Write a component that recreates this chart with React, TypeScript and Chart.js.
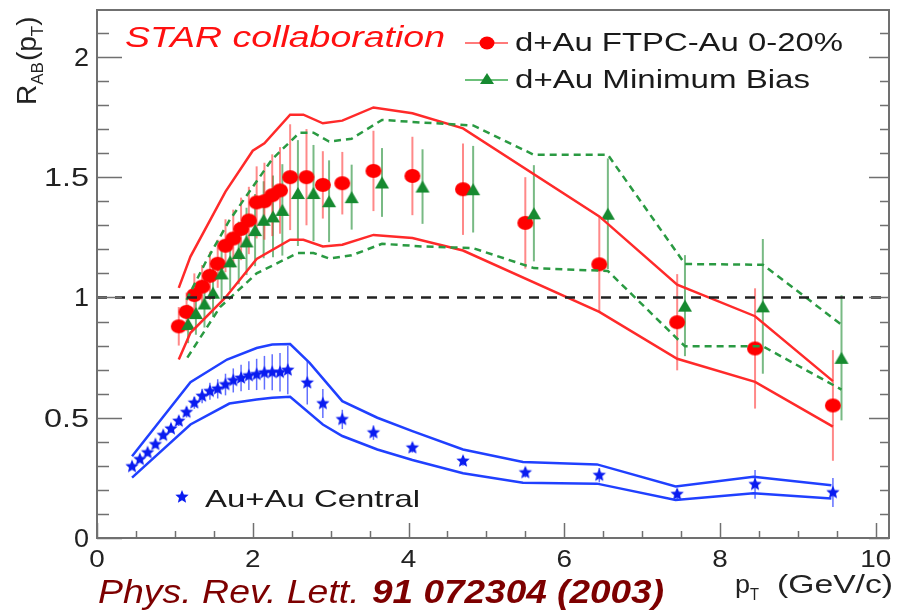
import React, { useEffect, useRef } from 'react';
import { Chart, registerables } from 'chart.js';

Chart.register(...registerables);

// ---------- axis ranges and ticks ----------
const X_MIN = 0;
const X_MAX = 10.17;
const Y_MIN = 0;
const Y_MAX = 2.195;
const xTickValues = [0, 2, 4, 6, 8, 10];
const xTickLabels = ['0', '2', '4', '6', '8', '10'];
const yTickValues = [0, 0.5, 1, 1.5, 2];
const yTickLabels = ['0', '0.5', '1', '1.5', '2'];
const xMinorStep = 0.5;
const yMinorStep = 0.1;
const refLineY = 1;

// ---------- d+Au FTPC-Au 0-20% (red circles) ----------
const ftpcX = [1.05, 1.15, 1.25, 1.35, 1.45, 1.55, 1.65, 1.75, 1.85, 1.95, 2.05, 2.15, 2.25, 2.35, 2.48, 2.69, 2.9, 3.15, 3.55, 4.05, 4.7, 5.5, 6.45, 7.45, 8.45, 9.45];
const ftpcY = [0.88, 0.94, 1.01, 1.045, 1.09, 1.14, 1.215, 1.245, 1.285, 1.32, 1.395, 1.4, 1.425, 1.445, 1.5, 1.5, 1.468, 1.475, 1.526, 1.505, 1.45, 1.31, 1.138, 0.897, 0.788, 0.551];
const ftpcErr = [0.08, 0.08, 0.09, 0.09, 0.1, 0.1, 0.11, 0.12, 0.13, 0.14, 0.15, 0.16, 0.17, 0.18, 0.22, 0.2, 0.14, 0.13, 0.167, 0.163, 0.19, 0.19, 0.2, 0.2, 0.25, 0.23];
const ftpcBandUpX = [1.05, 1.2, 1.65, 2.0, 2.15, 2.48, 2.65, 2.9, 3.15, 3.55, 4.05, 4.7, 6.45, 7.45, 8.45, 9.45];
const ftpcBandUpY = [1.04, 1.17, 1.44, 1.61, 1.641, 1.76, 1.76, 1.724, 1.735, 1.79, 1.766, 1.703, 1.337, 1.053, 0.922, 0.652];
const ftpcBandLoX = [1.05, 1.2, 1.65, 2.05, 2.48, 2.65, 2.9, 3.15, 3.55, 4.05, 4.7, 6.45, 7.45, 8.45, 9.45];
const ftpcBandLoY = [0.742, 0.853, 1.0, 1.16, 1.24, 1.24, 1.212, 1.219, 1.26, 1.247, 1.195, 0.94, 0.745, 0.649, 0.463];

// ---------- d+Au Minimum Bias (green triangles) ----------
const mbX = [1.17, 1.27, 1.38, 1.49, 1.6, 1.71, 1.82, 1.92, 2.03, 2.14, 2.26, 2.38, 2.58, 2.78, 2.98, 3.27, 3.66, 4.18, 4.83, 5.61, 6.56, 7.55, 8.55, 9.56];
const mbY = [0.89, 0.935, 0.975, 1.02, 1.1, 1.15, 1.185, 1.233, 1.28, 1.323, 1.337, 1.364, 1.434, 1.434, 1.4, 1.417, 1.478, 1.461, 1.45, 1.35, 1.348, 0.966, 0.963, 0.749];
const mbErr = [0.08, 0.09, 0.1, 0.1, 0.11, 0.12, 0.13, 0.14, 0.15, 0.16, 0.17, 0.19, 0.22, 0.2, 0.17, 0.135, 0.143, 0.155, 0.18, 0.2, 0.23, 0.21, 0.28, 0.26];
const mbBandUpX = [1.15, 1.4, 1.7, 2.0, 2.25, 2.6, 2.78, 2.98, 3.27, 3.66, 4.18, 4.83, 5.61, 6.56, 7.55, 8.55, 9.56];
const mbBandUpY = [0.99, 1.15, 1.32, 1.46, 1.575, 1.685, 1.685, 1.648, 1.66, 1.738, 1.727, 1.715, 1.593, 1.593, 1.139, 1.136, 0.887];
const mbBandLoX = [1.16, 1.58, 2.05, 2.58, 2.78, 2.98, 3.27, 3.66, 4.18, 4.83, 5.61, 6.56, 7.55, 8.55, 9.56];
const mbBandLoY = [0.75, 0.96, 1.1, 1.185, 1.185, 1.162, 1.175, 1.223, 1.212, 1.205, 1.122, 1.11, 0.797, 0.797, 0.617];

// ---------- Au+Au Central (blue stars) ----------
const auX = [0.45, 0.55, 0.65, 0.75, 0.85, 0.95, 1.05, 1.15, 1.25, 1.35, 1.45, 1.55, 1.65, 1.75, 1.85, 1.95, 2.05, 2.15, 2.25, 2.35, 2.45, 2.7, 2.9, 3.15, 3.55, 4.05, 4.7, 5.5, 6.45, 7.45, 8.45, 9.45];
const auY = [0.297, 0.327, 0.355, 0.389, 0.427, 0.454, 0.486, 0.523, 0.562, 0.59, 0.61, 0.62, 0.638, 0.655, 0.665, 0.675, 0.68, 0.687, 0.689, 0.689, 0.698, 0.645, 0.559, 0.493, 0.438, 0.375, 0.32, 0.272, 0.261, 0.182, 0.223, 0.189];
const auErr = [0.01, 0.01, 0.012, 0.013, 0.015, 0.017, 0.02, 0.022, 0.025, 0.03, 0.035, 0.04, 0.045, 0.05, 0.055, 0.06, 0.065, 0.07, 0.075, 0.08, 0.1, 0.09, 0.06, 0.04, 0.03, 0.02, 0.02, 0.02, 0.03, 0.02, 0.06, 0.06];
const auBandUpX = [0.45, 1.2, 1.67, 2.05, 2.25, 2.48, 2.73, 3.15, 3.6, 4.05, 4.7, 5.47, 6.42, 7.43, 8.43, 9.43];
const auBandUpY = [0.34, 0.648, 0.742, 0.79, 0.804, 0.806, 0.728, 0.569, 0.5, 0.444, 0.368, 0.316, 0.306, 0.214, 0.255, 0.219];
const auBandLoX = [0.45, 1.2, 1.7, 2.05, 2.25, 2.48, 2.9, 3.15, 3.6, 4.05, 4.7, 5.47, 6.42, 7.43, 8.43, 9.43];
const auBandLoY = [0.251, 0.472, 0.559, 0.576, 0.583, 0.587, 0.472, 0.424, 0.368, 0.324, 0.269, 0.23, 0.226, 0.158, 0.186, 0.164];

// ---------- texts ----------
const starLabel = 'STAR collaboration';
const ftpcLabel = 'd+Au FTPC-Au 0-20%';
const mbLabel = 'd+Au Minimum Bias';
const auLabel = 'Au+Au Central';
const refPlain = 'Phys. Rev. Lett. ';
const refBold = '91 072304 (2003)';

const RED = '#ff0000';
const RED_BAND = '#ff2a2a';
const RED_ERR = 'rgba(255,40,40,0.55)';
const GREEN = '#168a30';
const GREEN_BAND = '#2a9a42';
const GREEN_ERR = 'rgba(30,140,50,0.6)';
const BLUE = '#0a1cf0';
const BLUE_BAND = '#2040ff';
const BLUE_ERR = 'rgba(30,50,255,0.7)';
const FONT = '"Liberation Sans", Arial, Helvetica, sans-serif';

const pts = (xs: number[], ys: number[]) => xs.map((x, i) => ({ x, y: ys[i] }));

function makeStar(r: number, color: string) {
  const c = document.createElement('canvas');
  const s = Math.ceil(r * 2 + 2);
  c.width = s;
  c.height = s;
  const g = c.getContext('2d')!;
  g.fillStyle = color;
  g.beginPath();
  for (let i = 0; i < 10; i++) {
    const a = -Math.PI / 2 + (i * Math.PI) / 5;
    const rr = i % 2 === 0 ? r : r * 0.45;
    g.lineTo(s / 2 + rr * Math.cos(a), s / 2 + rr * Math.sin(a));
  }
  g.closePath();
  g.fill();
  return c;
}

function makeEllipse(rx: number, ry: number, color: string) {
  const c = document.createElement('canvas');
  c.width = Math.ceil(rx * 2 + 2);
  c.height = Math.ceil(ry * 2 + 2);
  const g = c.getContext('2d')!;
  g.fillStyle = color;
  g.beginPath();
  g.ellipse(c.width / 2, c.height / 2, rx, ry, 0, 0, Math.PI * 2);
  g.fill();
  return c;
}

function makeTriangle(w: number, h: number, color: string) {
  const c = document.createElement('canvas');
  c.width = Math.ceil(w + 2);
  c.height = Math.ceil(h + 2);
  const g = c.getContext('2d')!;
  g.fillStyle = color;
  g.beginPath();
  g.moveTo(c.width / 2, 1);
  g.lineTo(c.width / 2 + w / 2, 1 + h);
  g.lineTo(c.width / 2 - w / 2, 1 + h);
  g.closePath();
  g.fill();
  return c;
}

function fitText(ctx: CanvasRenderingContext2D, text: string, x: number, y: number, font: string, color: string, width?: number, align: string = 'left') {
  ctx.save();
  ctx.font = font;
  ctx.fillStyle = color;
  ctx.textBaseline = 'alphabetic';
  ctx.textAlign = 'left';
  const w = ctx.measureText(text).width;
  const sx = width ? width / w : 1;
  ctx.translate(x, y);
  ctx.scale(sx, 1);
  let dx = 0;
  if (align === 'right') dx = -w;
  else if (align === 'center') dx = -w / 2;
  ctx.fillText(text, dx, 0);
  ctx.restore();
}

const errorBarPlugin = {
  id: 'errorBars',
  beforeDatasetsDraw(chart: any) {
    const { ctx } = chart;
    const xs = chart.scales.x;
    const ys = chart.scales.y;
    ctx.save();
    ctx.beginPath();
    ctx.rect(chart.chartArea.left, chart.chartArea.top, chart.chartArea.right - chart.chartArea.left, chart.chartArea.bottom - chart.chartArea.top);
    ctx.clip();
    chart.data.datasets.forEach((ds: any) => {
      if (!ds.errors) return;
      ctx.strokeStyle = ds.errColor;
      ctx.lineWidth = ds.errWidth || 2;
      ds.data.forEach((p: any, i: number) => {
        const e = ds.errors[i];
        const px = xs.getPixelForValue(p.x);
        ctx.beginPath();
        ctx.moveTo(px, ys.getPixelForValue(p.y - e));
        ctx.lineTo(px, ys.getPixelForValue(p.y + e));
        ctx.stroke();
      });
    });
    ctx.restore();
  },
};

const framePlugin = {
  id: 'frameAndText',
  afterDraw(chart: any) {
    const { ctx, chartArea } = chart;
    const xs = chart.scales.x;
    const ys = chart.scales.y;
    const { left, right, top, bottom } = chartArea;
    ctx.save();
    ctx.strokeStyle = '#707070';
    ctx.lineWidth = 2;
    ctx.strokeRect(left, top, right - left, bottom - top);
    ctx.lineWidth = 1.5;
    for (let v = Y_MIN; v <= Y_MAX + 1e-9; v += yMinorStep) {
      const vv = Math.round(v * 10) / 10;
      const major = yTickValues.some((t) => Math.abs(t - vv) < 1e-6);
      const py = Math.round(ys.getPixelForValue(vv)) + 0.5;
      ctx.beginPath();
      ctx.moveTo(left, py);
      ctx.lineTo(left + (major ? 25 : 12), py);
      ctx.moveTo(right, py);
      ctx.lineTo(right - (major ? 20 : 9), py);
      ctx.stroke();
    }
    for (let v = X_MIN; v <= X_MAX + 1e-9; v += xMinorStep) {
      const major = xTickValues.some((t) => Math.abs(t - v) < 1e-6);
      const px = Math.round(xs.getPixelForValue(v)) + 0.5;
      ctx.beginPath();
      ctx.moveTo(px, bottom);
      ctx.lineTo(px, bottom - (major ? 15 : 7));
      ctx.stroke();
    }
    ctx.restore();

    yTickValues.forEach((v, i) => {
      const py = ys.getPixelForValue(v);
      const lbl = yTickLabels[i];
      const w = lbl.length === 1 ? 15 : 45;
      fitText(ctx, lbl, 89, py + 9, `25px ${FONT}`, '#222', w, 'right');
    });
    xTickValues.forEach((v, i) => {
      const px = xs.getPixelForValue(v);
      const lbl = xTickLabels[i];
      const w = lbl.length === 1 ? 15.5 : 31;
      fitText(ctx, lbl, px, 567, `24px ${FONT}`, '#222', w, 'center');
    });

    ctx.save();
    ctx.translate(36, 105);
    ctx.rotate(-Math.PI / 2);
    ctx.fillStyle = '#222';
    ctx.textBaseline = 'alphabetic';
    let cx = 0;
    const part = (t: string, size: number, dy: number) => {
      ctx.font = `${size}px ${FONT}`;
      ctx.fillText(t, cx, dy);
      cx += ctx.measureText(t).width;
    };
    part('R', 28, 0);
    part('AB', 17, 7);
    cx += 1;
    part('(p', 28, 0);
    part('T', 17, 7);
    part(')', 28, 0);
    ctx.restore();

    fitText(ctx, 'p', 735, 593, `25px ${FONT}`, '#222', 15);
    fitText(ctx, 'T', 750, 600, `16px ${FONT}`, '#222', 9);
    fitText(ctx, '(GeV/c)', 777, 593, `25px ${FONT}`, '#222', 116);

    fitText(ctx, starLabel, 125, 47, `italic 30px ${FONT}`, '#ff1010', 320);

    ctx.save();
    ctx.lineWidth = 2;
    ctx.strokeStyle = '#ff7a7a';
    ctx.beginPath();
    ctx.moveTo(465, 43);
    ctx.lineTo(508, 43);
    ctx.stroke();
    ctx.fillStyle = RED;
    ctx.beginPath();
    ctx.ellipse(487, 43, 7.5, 6.5, 0, 0, Math.PI * 2);
    ctx.fill();
    ctx.strokeStyle = '#6cc07a';
    ctx.beginPath();
    ctx.moveTo(465, 80);
    ctx.lineTo(508, 80);
    ctx.stroke();
    ctx.fillStyle = GREEN;
    ctx.beginPath();
    ctx.moveTo(487, 73);
    ctx.lineTo(494, 84);
    ctx.lineTo(480, 84);
    ctx.closePath();
    ctx.fill();
    ctx.restore();
    fitText(ctx, ftpcLabel, 515, 51, `25px ${FONT}`, '#1a1a1a', 328);
    fitText(ctx, mbLabel, 515, 88, `25px ${FONT}`, '#1a1a1a', 295);
    const star = makeStar(7, BLUE);
    ctx.drawImage(star, 182 - star.width / 2, 497 - star.height / 2);
    fitText(ctx, auLabel, 205, 507, `24px ${FONT}`, '#1a1a1a', 215);

    fitText(ctx, refPlain, 98, 603, `italic 34px ${FONT}`, '#7d0000', 272);
    fitText(ctx, refBold, 372, 603, `italic bold 34px ${FONT}`, '#7d0000', 292);
  },
};

export default function App() {
  const ref = useRef<HTMLCanvasElement | null>(null);

  useEffect(() => {
    if (!ref.current) return;
    const starImg = makeStar(7, BLUE);
    const circleImg = makeEllipse(8, 7, RED);
    const triImg = makeTriangle(14, 12, GREEN);
    const band = (xs: number[], ys: number[], color: string, dash: number[] = []) => ({
      data: pts(xs, ys),
      showLine: true,
      borderColor: color,
      borderWidth: 2.5,
      borderDash: dash,
      pointRadius: 0,
      tension: 0,
      fill: false,
    });
    const chart = new Chart(ref.current, {
      type: 'scatter',
      data: {
        datasets: [
          {
            data: [{ x: X_MIN, y: refLineY }, { x: X_MAX, y: refLineY }],
            showLine: true,
            borderColor: '#222',
            borderWidth: 2.5,
            borderDash: [10, 8],
            pointRadius: 0,
          } as any,
          band(auBandUpX, auBandUpY, BLUE_BAND),
          band(auBandLoX, auBandLoY, BLUE_BAND),
          band(mbBandUpX, mbBandUpY, GREEN_BAND, [7, 5]),
          band(mbBandLoX, mbBandLoY, GREEN_BAND, [7, 5]),
          band(ftpcBandUpX, ftpcBandUpY, RED_BAND),
          band(ftpcBandLoX, ftpcBandLoY, RED_BAND),
          {
            label: auLabel,
            data: pts(auX, auY),
            pointStyle: starImg,
            pointRadius: 7,
            errors: auErr,
            errColor: BLUE_ERR,
            errWidth: 1.5,
          } as any,
          {
            label: mbLabel,
            data: pts(mbX, mbY),
            pointStyle: triImg,
            pointRadius: 7,
            errors: mbErr,
            errColor: GREEN_ERR,
          } as any,
          {
            label: ftpcLabel,
            data: pts(ftpcX, ftpcY),
            pointStyle: circleImg,
            pointRadius: 8,
            errors: ftpcErr,
            errColor: RED_ERR,
          } as any,
        ],
      },
      options: {
        animation: false,
        responsive: false,
        maintainAspectRatio: false,
        layout: { padding: { left: 97, top: 10, right: 6, bottom: 74 } },
        plugins: { legend: { display: false }, tooltip: { enabled: false } },
        scales: {
          x: { type: 'linear', min: X_MIN, max: X_MAX, display: false },
          y: { type: 'linear', min: Y_MIN, max: Y_MAX, display: false },
        },
      },
      plugins: [errorBarPlugin, framePlugin],
    });
    return () => chart.destroy();
  }, []);

  return (
    <div style={{ position: 'fixed', left: 0, top: 0, width: 898, height: 612, background: '#fff' }}>
      <canvas ref={ref} width={898} height={612} style={{ display: 'block', width: 898, height: 612 }} />
    </div>
  );
}
